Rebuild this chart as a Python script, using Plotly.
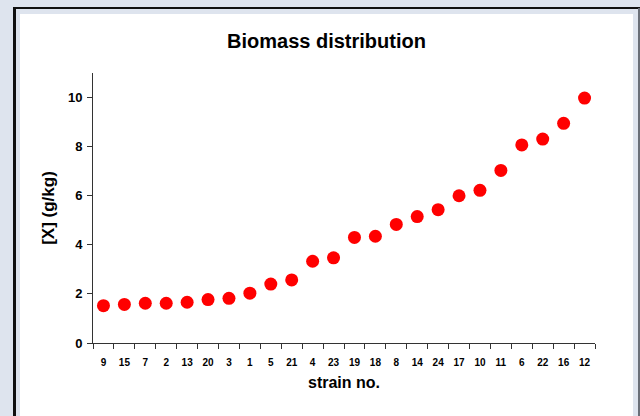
import plotly.graph_objects as go

strains = ["9", "15", "7", "2", "13", "20", "3", "1", "5", "21", "4", "23",
           "19", "18", "8", "14", "24", "17", "10", "11", "6", "22", "16", "12"]
biomass = [1.52, 1.57, 1.62, 1.62, 1.66, 1.77, 1.82, 2.03, 2.40, 2.57, 3.33, 3.47,
           4.30, 4.35, 4.83, 5.15, 5.43, 6.00, 6.22, 7.03, 8.07, 8.31, 8.95, 9.98]
y_ticks = [0, 2, 4, 6, 8, 10]

W, H = 640, 416
L, R, T, B = 93, 45, 73, 73
pw, ph = W - L - R, H - T - B

def px(x):
    return (x - L) / pw

def py(y):
    return (H - B - y) / ph

FONT = "Arial, Liberation Sans, sans-serif"

fig = go.Figure(go.Scatter(
    x=strains, y=biomass, mode="markers",
    marker=dict(color="#ff0000", size=13, line=dict(width=0)),
    hoverinfo="x+y",
))

shapes = [
    dict(type="rect", xref="paper", yref="paper", layer="below",
         x0=px(20), x1=px(633), y0=py(14), y1=py(430),
         fillcolor="white", line=dict(width=0)),
    dict(type="line", xref="paper", yref="paper", layer="below",
         x0=px(14.5), x1=px(14.5), y0=py(7), y1=py(430),
         line=dict(color="#111111", width=3)),
    dict(type="line", xref="paper", yref="paper", layer="below",
         x0=px(13), x1=px(641), y0=py(8), y1=py(8),
         line=dict(color="#111111", width=2)),
    dict(type="line", xref="paper", yref="paper", layer="below",
         x0=px(639), x1=px(639), y0=py(8), y1=py(430),
         line=dict(color="#6a6f78", width=2)),
]

fig.update_layout(
    width=W, height=H,
    margin=dict(l=L, r=R, t=T, b=B, autoexpand=False),
    paper_bgcolor="#dee4ee",
    plot_bgcolor="rgba(0,0,0,0)",
    showlegend=False,
    shapes=shapes,
    title=dict(text="<b>Biomass distribution</b>", x=px(326.5), xref="paper",
               xanchor="center", y=1 - 41 / H, yref="container", yanchor="middle",
               font=dict(family=FONT, size=20, color="black")),
    font=dict(family=FONT, color="black"),
    xaxis=dict(
        type="category", range=[-0.5, len(strains) - 0.5],
        tickson="boundaries", ticks="outside", ticklen=5, tickcolor="#333333",
        showline=True, linecolor="#333333", linewidth=1,
        showgrid=False, zeroline=False,
        tickfont=dict(family=FONT, size=10, color="black", weight="bold"),
        ticklabelstandoff=10,
        title=dict(text="<b>strain no.</b>", standoff=9,
                   font=dict(family=FONT, size=16, color="black")),
    ),
    yaxis=dict(
        range=[0, 11], tickvals=y_ticks, ticks="outside", ticklen=5,
        tickcolor="#333333", showline=True, linecolor="#333333", linewidth=1,
        showgrid=False, zeroline=False,
        tickfont=dict(family=FONT, size=13, color="black", weight="bold"),
        ticklabelstandoff=2,
        title=dict(text="<b>[X] (g/kg)</b>", standoff=8,
                   font=dict(family=FONT, size=17, color="black")),
    ),
)

fig.write_html("out.html",
               config={"displayModeBar": False},
               post_script="document.body.style.margin='0';"
                           "document.body.style.overflow='hidden';")
